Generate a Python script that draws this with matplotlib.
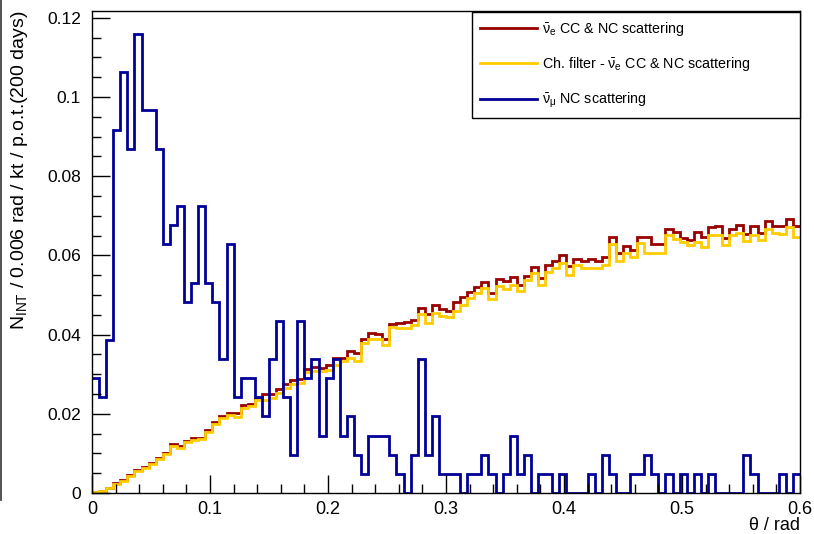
import matplotlib
matplotlib.use("Agg")
import matplotlib.pyplot as plt
from matplotlib.ticker import MultipleLocator, FuncFormatter
from matplotlib.lines import Line2D
import numpy as np

plt.rcParams["font.family"] = ["Liberation Sans", "DejaVu Sans"]
plt.rcParams["mathtext.fontset"] = "custom"
plt.rcParams["mathtext.rm"] = "Liberation Sans"
plt.rcParams["mathtext.it"] = "Liberation Sans:italic"

# binning: 100 bins of 0.006 rad
edges = np.linspace(0.0, 0.6, 101)

# anti-nu_e CC & NC scattering
nue_all = [
    0.0003, 0.0005, 0.0013, 0.0024, 0.0033, 0.0045, 0.0058, 0.0066, 0.0075, 0.0088,
    0.0101, 0.0123, 0.0118, 0.0132, 0.0138, 0.0140, 0.0159, 0.0180, 0.0194, 0.0202,
    0.0202, 0.0221, 0.0225, 0.0241, 0.0249, 0.0250, 0.0262, 0.0275, 0.0285, 0.0288,
    0.0313, 0.0319, 0.0315, 0.0323, 0.0340, 0.0341, 0.0359, 0.0353, 0.0390, 0.0403,
    0.0401, 0.0388, 0.0427, 0.0430, 0.0431, 0.0437, 0.0468, 0.0452, 0.0475, 0.0464,
    0.0460, 0.0481, 0.0494, 0.0507, 0.0519, 0.0534, 0.0504, 0.0540, 0.0535, 0.0546,
    0.0525, 0.0549, 0.0570, 0.0542, 0.0576, 0.0587, 0.0601, 0.0573, 0.0590, 0.0587,
    0.0591, 0.0587, 0.0595, 0.0646, 0.0605, 0.0624, 0.0614, 0.0647, 0.0647, 0.0628,
    0.0628, 0.0666, 0.0660, 0.0643, 0.0639, 0.0660, 0.0647, 0.0671, 0.0674, 0.0643,
    0.0666, 0.0677, 0.0654, 0.0674, 0.0657, 0.0688, 0.0674, 0.0674, 0.0692, 0.0674,
]

# after charge filter
nue_filt = [
    0.0003, 0.0004, 0.0012, 0.0022, 0.0031, 0.0043, 0.0055, 0.0063, 0.0072, 0.0085,
    0.0098, 0.0119, 0.0113, 0.0128, 0.0133, 0.0136, 0.0154, 0.0175, 0.0189, 0.0196,
    0.0192, 0.0215, 0.0219, 0.0234, 0.0235, 0.0240, 0.0252, 0.0264, 0.0275, 0.0277,
    0.0306, 0.0309, 0.0308, 0.0310, 0.0323, 0.0333, 0.0342, 0.0334, 0.0378, 0.0390,
    0.0388, 0.0374, 0.0420, 0.0416, 0.0416, 0.0424, 0.0452, 0.0428, 0.0455, 0.0447,
    0.0444, 0.0460, 0.0475, 0.0492, 0.0504, 0.0517, 0.0489, 0.0523, 0.0515, 0.0525,
    0.0510, 0.0538, 0.0556, 0.0525, 0.0559, 0.0567, 0.0580, 0.0551, 0.0576, 0.0567,
    0.0567, 0.0569, 0.0576, 0.0628, 0.0587, 0.0605, 0.0597, 0.0632, 0.0607, 0.0607,
    0.0607, 0.0652, 0.0641, 0.0635, 0.0626, 0.0634, 0.0622, 0.0652, 0.0652, 0.0626,
    0.0652, 0.0656, 0.0637, 0.0652, 0.0639, 0.0666, 0.0656, 0.0654, 0.0671, 0.0647,
]

# anti-nu_mu NC scattering: entries per bin times event weight
numu_counts = [
    6, 5, 8, 19, 22, 18, 24, 20, 20, 18,
    13, 14, 15, 10, 11, 15, 11, 10, 7, 13,
    5, 6, 6, 5, 4, 7, 9, 5, 2, 9,
    6, 7, 3, 6, 7, 3, 4, 2, 1, 3,
    3, 3, 2, 1, 0, 2, 7, 2, 4, 1,
    1, 1, 0, 1, 1, 2, 1, 0, 1, 3,
    1, 2, 0, 1, 1, 0, 1, 0, 0, 0,
    1, 0, 2, 1, 0, 0, 1, 1, 2, 1,
    0, 1, 0, 1, 0, 1, 0, 1, 0, 0,
    0, 0, 2, 1, 0, 0, 0, 1, 0, 1,
]
numu_weight = 0.00483
numu = np.array(numu_counts) * numu_weight

labels = [
    r"$\bar{\mathrm{\nu}}_{\mathrm{e}}$ CC & NC scattering",
    r"Ch. filter - $\bar{\mathrm{\nu}}_{\mathrm{e}}$ CC & NC scattering",
    r"$\bar{\mathrm{\nu}}_{\mathrm{\mu}}$ NC scattering",
]
colors = ["#990000", "#ffcc00", "#000099"]

fig = plt.figure(figsize=(8.14, 5.34), dpi=100)
ax = fig.add_axes([92 / 814, 41 / 534, 708 / 814, 482 / 534])

ax.stairs(nue_all, edges, baseline=None, color=colors[0], linewidth=2.0)
ax.stairs(nue_filt, edges, baseline=None, color=colors[1], linewidth=2.0)
ax.stairs(numu, edges, baseline=None, color=colors[2], linewidth=2.0)

ax.set_xlim(0, 0.6)
ax.set_ylim(0, 0.1217)

fmt = FuncFormatter(lambda v, p: "%g" % round(v, 4))
ax.xaxis.set_major_locator(MultipleLocator(0.1))
ax.xaxis.set_minor_locator(MultipleLocator(0.02))
ax.yaxis.set_major_locator(MultipleLocator(0.02))
ax.yaxis.set_minor_locator(MultipleLocator(0.005))
ax.xaxis.set_major_formatter(fmt)
ax.yaxis.set_major_formatter(fmt)
ax.tick_params(which="major", direction="in", length=13, width=1, color="black")
ax.tick_params(which="minor", direction="in", length=6.5, width=1, color="black")
ax.tick_params(axis="y", pad=8, labelsize=12.5)
ax.tick_params(axis="x", pad=6, labelsize=13)

for s in ax.spines.values():
    s.set_linewidth(1)
    s.set_color("black")

ax.set_xlabel(u"\u03b8 / rad", loc="right", fontsize=13, labelpad=-1)
ax.set_ylabel(r"N$_{\mathrm{INT}}$ / 0.006 rad / kt / p.o.t.(200 days)", loc="top",
              fontsize=14, labelpad=12)

handles = [Line2D([], [], color=c, linewidth=2) for c in colors]
leg = ax.legend(handles, labels, loc="upper left", bbox_to_anchor=(0.537, 0.5, 0.463, 0.498),
                mode="expand", borderaxespad=0, fontsize=10.3, handlelength=4.0,
                handletextpad=0.35, labelspacing=1.22, borderpad=0.55, fancybox=False,
                framealpha=1, edgecolor="black")
leg.get_frame().set_linewidth(1)

# canvas border on the left
fig.add_artist(Line2D([0.0015, 0.0015], [34 / 534, 1.0], color="#333333", linewidth=1.2))

fig.savefig("out.png", dpi=100)
